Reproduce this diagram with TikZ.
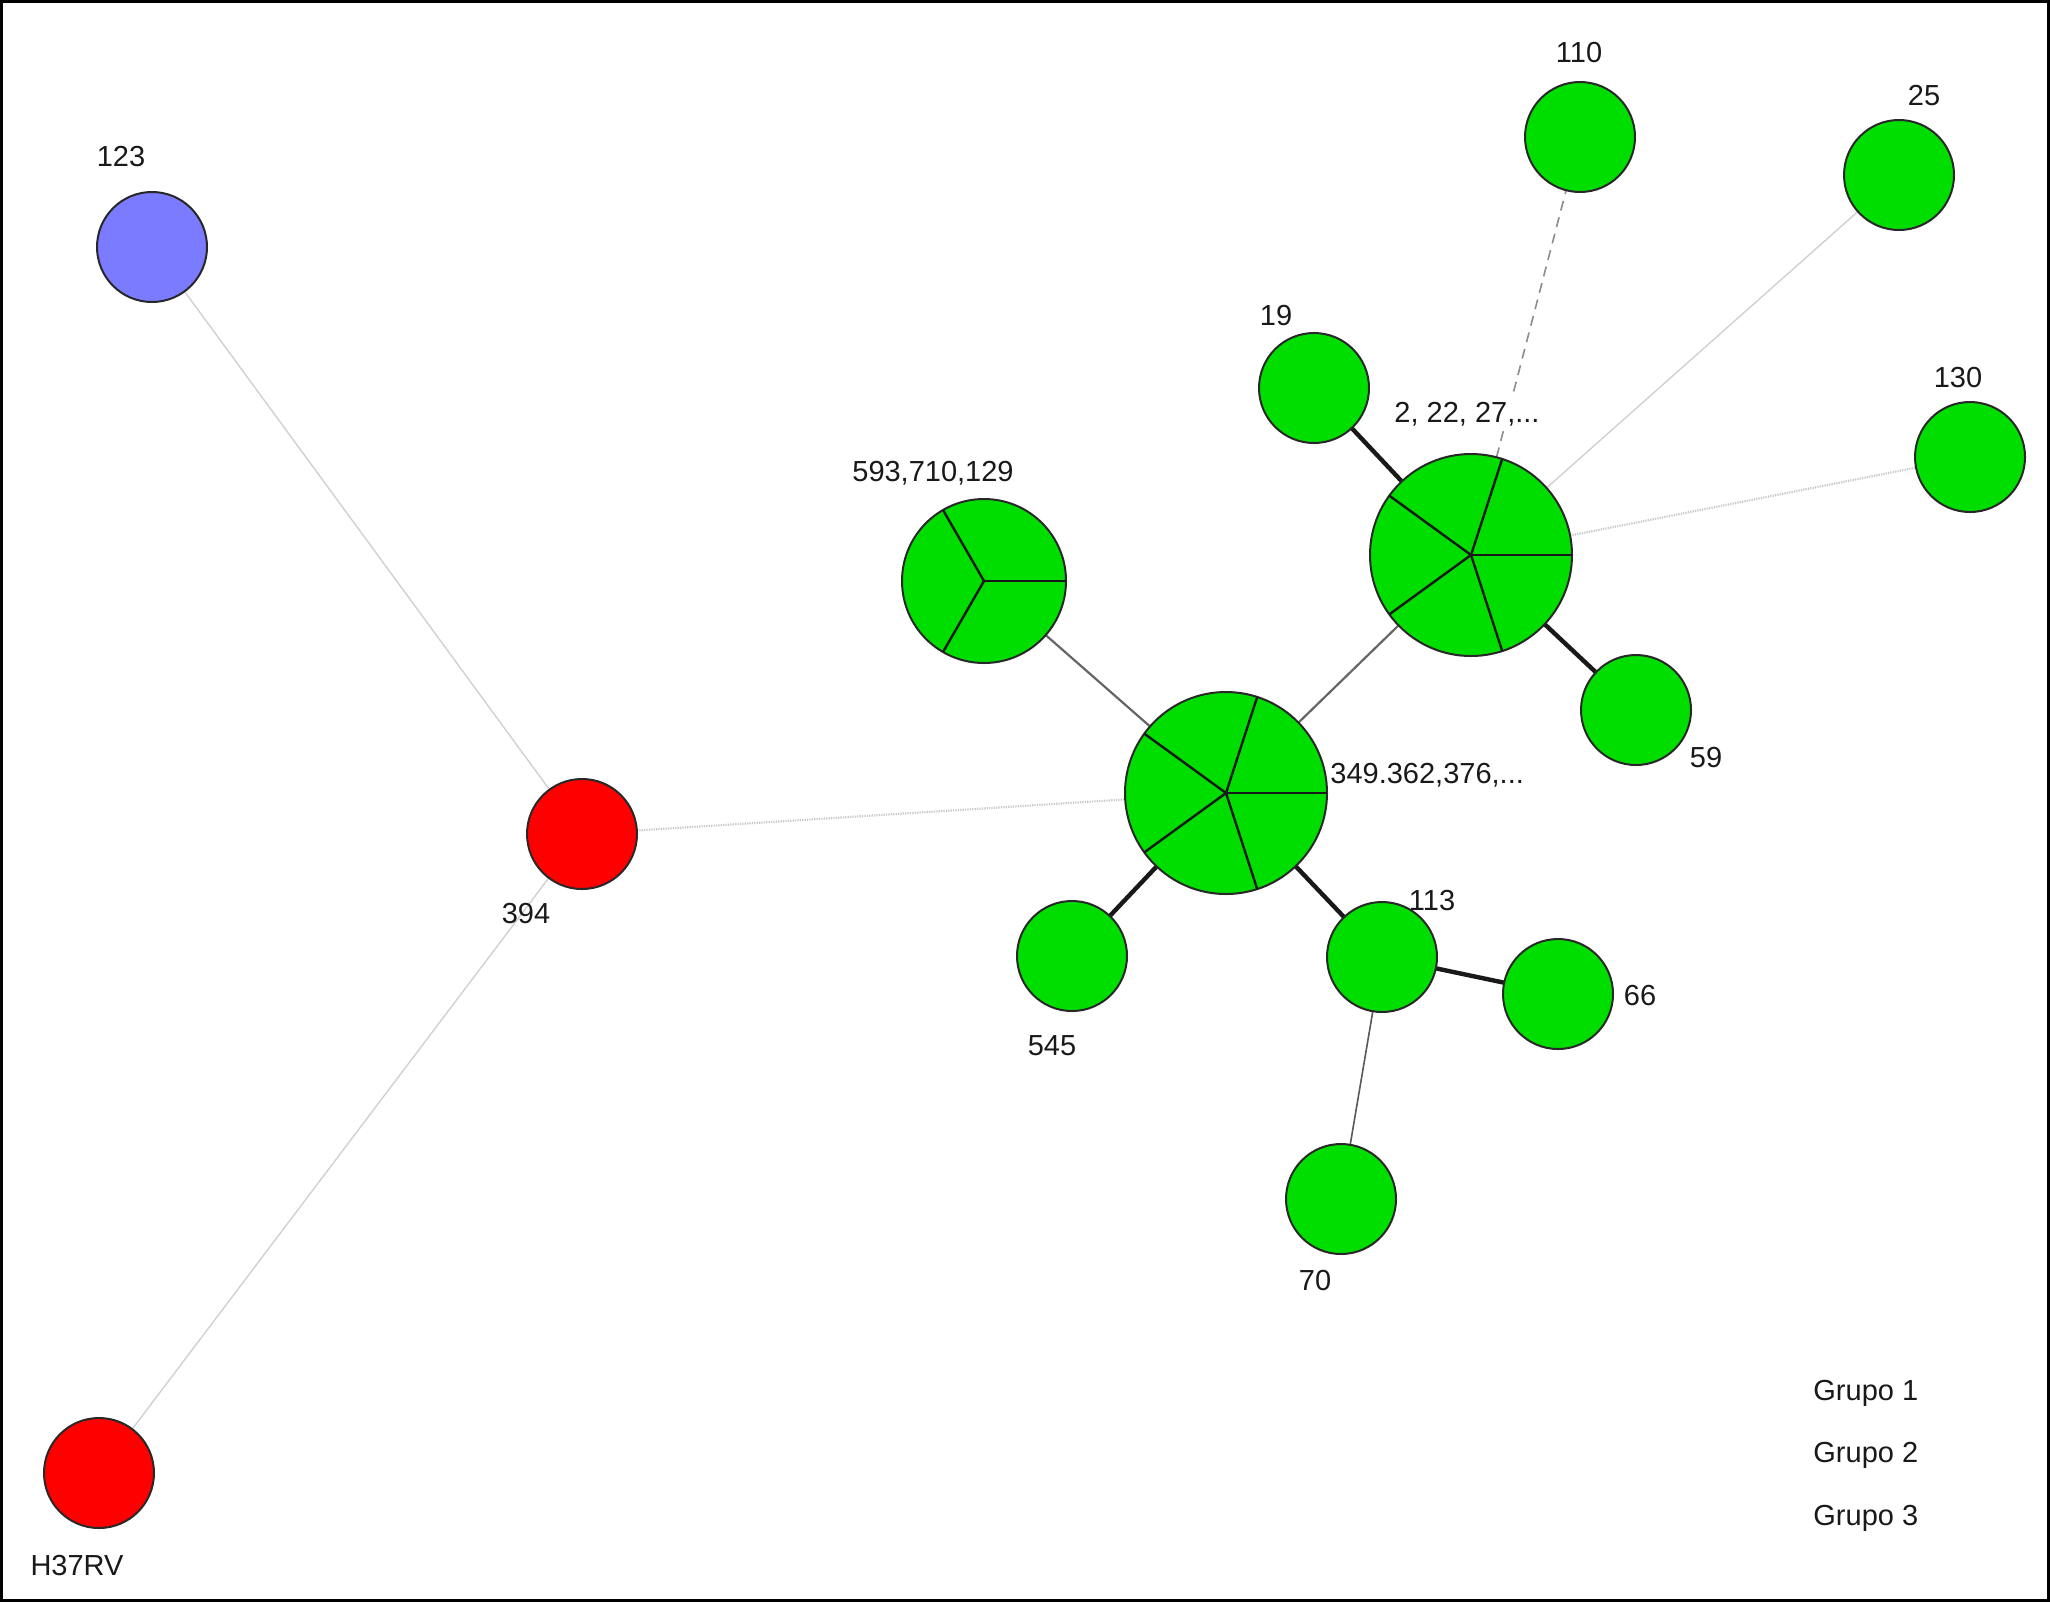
\documentclass[tikz,border=0pt]{standalone}
\usepackage{fontspec}
\setmainfont{Liberation Sans}
\usetikzlibrary{backgrounds}
\definecolor{ngreen}{RGB}{0,222,0}
\definecolor{nblue}{RGB}{123,123,255}
\definecolor{nred}{RGB}{255,0,0}
\definecolor{nrim}{RGB}{40,40,40}
\tikzset{
  vert/.style={circle, draw=nrim, line width=1pt, inner sep=0pt, outer sep=0pt, minimum size=#1},
  gvert/.style={vert=55pt, fill=ngreen},
  pie/.style={line width=1.2pt, draw=black!90},
  lbl/.style={inner sep=0pt, font=\fontsize{14.5pt}{16pt}\selectfont, text=black!90},
  lightedge/.style={draw=black!18, line width=0.7pt},
  dotedge/.style={draw=black!22, line width=1.1pt, dash pattern=on 0.6pt off 0.6pt},
  dashedge/.style={draw=black!45, line width=0.8pt, dash pattern=on 5pt off 3.5pt},
  midedge/.style={draw=black!60, line width=1.1pt},
  thinedge/.style={draw=black!65, line width=0.8pt},
  heavyedge/.style={draw=black!90, line width=2.2pt},
}
\begin{document}
\begin{tikzpicture}[x=0.5pt, y=-0.5pt]
\useasboundingbox (0,0) rectangle (2050,1602);
% nodes
\node[vert=55pt, fill=nblue] (n123) at (152,247) {};
\node[vert=55pt, fill=nred] (n394) at (582,834) {};
\node[vert=55pt, fill=nred] (nH) at (99,1473) {};
\node[vert=101pt, fill=ngreen] (nC) at (1226,793) {};
\node[vert=101pt, fill=ngreen] (nB) at (1471,555) {};
\node[vert=82pt, fill=ngreen] (nA) at (984,581) {};
\node[gvert] (n19) at (1314,388) {};
\node[gvert] (n110) at (1580,137) {};
\node[gvert] (n25) at (1899,175) {};
\node[gvert] (n130) at (1970,457) {};
\node[gvert] (n59) at (1636,710) {};
\node[gvert] (n545) at (1072,956) {};
\node[gvert] (n113) at (1382,957) {};
\node[gvert] (n66) at (1558,994) {};
\node[gvert] (n70) at (1341,1199) {};
% pie slices
\foreach \a in {0,72,144,216,288} {
  \draw[pie] (nC.center) -- (nC.\a);
  \draw[pie] (nB.center) -- (nB.\a);
}
\foreach \a in {0,120,240} {
  \draw[pie] (nA.center) -- (nA.\a);
}
% edges
\begin{scope}[on background layer]
\fill[white] (0,0) rectangle (2050,1602);
\draw[lightedge] (n123) -- (n394);
\draw[lightedge] (n394) -- (nH);
\draw[dotedge] (n394) -- (nC);
\draw[midedge] (nA) -- (nC);
\draw[midedge] (nC) -- (nB);
\draw[heavyedge] (n19) -- (nB);
\draw[heavyedge] (nB) -- (n59);
\draw[dashedge] (nB) -- (n110);
\draw[lightedge] (nB) -- (n25);
\draw[dotedge] (nB) -- (n130);
\draw[heavyedge] (nC) -- (n545);
\draw[heavyedge] (nC) -- (n113);
\draw[heavyedge] (n113) -- (n66);
\draw[thinedge] (n113) -- (n70);
\end{scope}
% labels
\node[lbl] (l123) at (121,157) {123};
\node[lbl] (l394) at (526,913) {394};
\node[lbl] (lH) at (77,1565) {H37RV};
\node[lbl, anchor=west] (lC) at (1330,775) {349.362,376,...};
\node[lbl, fill=white, inner sep=2pt] (lB) at (1467,414) {2, 22, 27,...};
\node[lbl] (lA) at (933,473) {593,710,129};
\node[lbl] (l19) at (1276,316) {19};
\node[lbl] (l110) at (1579,53) {110};
\node[lbl] (l25) at (1924,96) {25};
\node[lbl] (l130) at (1958,378) {130};
\node[lbl] (l59) at (1706,758) {59};
\node[lbl] (l545) at (1052,1046) {545};
\node[lbl] (l113) at (1432,900) {113};
\node[lbl] (l66) at (1640,995) {66};
\node[lbl] (l70) at (1315,1280) {70};
\node[lbl, anchor=west] (g1) at (1813,1393) {Grupo 1};
\node[lbl, anchor=west] (g2) at (1813,1455) {Grupo 2};
\node[lbl, anchor=west] (g3) at (1813,1518) {Grupo 3};
% frame
\draw[black, line width=1.5pt] (1.5,1.5) rectangle (2048.5,1600.5);
\end{tikzpicture}
\end{document}
